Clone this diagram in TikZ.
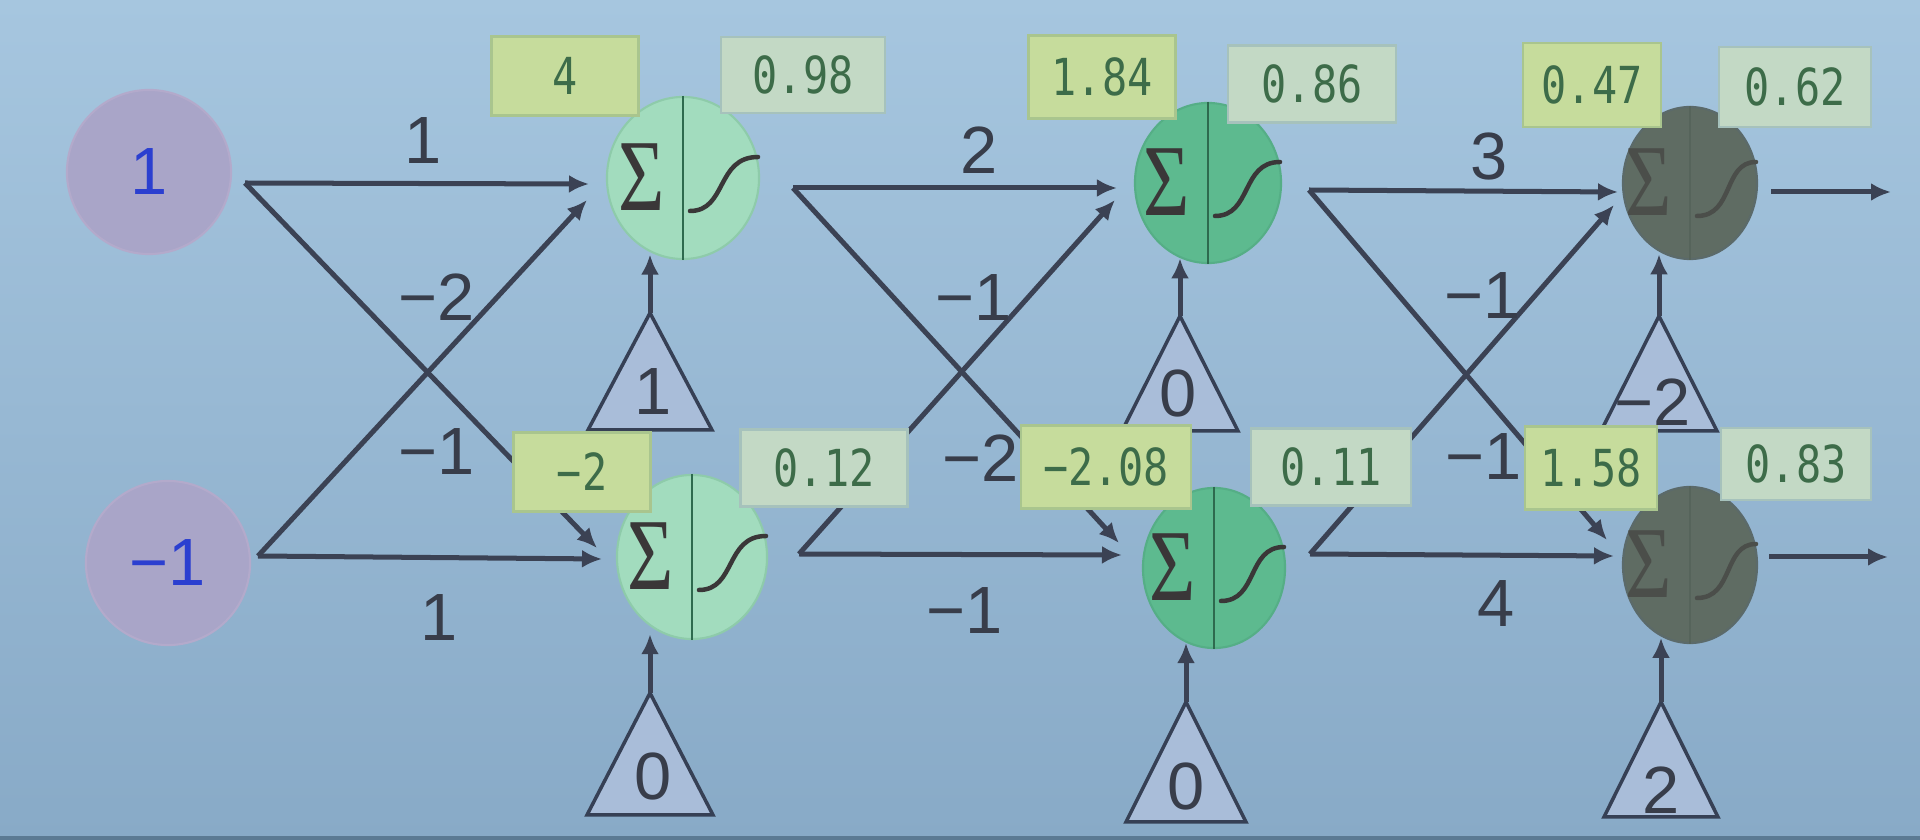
\documentclass[tikz,border=0pt]{standalone}
\usepackage{fontspec}
\setmainfont{Liberation Sans}
\newfontfamily\boxfont[FakeStretch=0.82]{DejaVu Sans Mono}
\newfontfamily\sigmafont{Liberation Serif}
\usetikzlibrary{shapes.geometric,arrows.meta,calc}
\definecolor{bgtop}{HTML}{A6C6DF}
\definecolor{bgbot}{HTML}{88AAC7}
\definecolor{bgline}{HTML}{5B7A93}
\definecolor{edgec}{HTML}{3B4254}
\definecolor{inputfill}{HTML}{A9A5C8}
\definecolor{inputdraw}{HTML}{B3AACB}
\definecolor{inputtext}{HTML}{2B3FD0}
\definecolor{n1fill}{HTML}{A2DCBE}
\definecolor{n1draw}{HTML}{8ECBAA}
\definecolor{n2fill}{HTML}{5DBA8F}
\definecolor{n2draw}{HTML}{55AE86}
\definecolor{n3fill}{HTML}{5F6C63}
\definecolor{n3draw}{HTML}{5B6A6A}
\definecolor{divc}{HTML}{2E6A4E}
\definecolor{div3c}{HTML}{56645B}
\definecolor{sigc}{HTML}{3A3738}
\definecolor{sig3c}{HTML}{4B4E4A}
\definecolor{zfill}{HTML}{C6DC9C}
\definecolor{zdraw}{HTML}{A9C58E}
\definecolor{afill}{HTML}{C3D9C5}
\definecolor{adraw}{HTML}{A6C2BC}
\definecolor{boxtext}{HTML}{3D6C49}
\definecolor{trifill}{HTML}{A9BDD9}
\definecolor{tridraw}{HTML}{364055}
\definecolor{labelc}{HTML}{383D4A}
\begin{document}
\begin{tikzpicture}[x=0.01cm,y=-0.01cm,
  arr/.style={draw=edgec, line width=0.05cm, -{Latex[length=0.2cm,width=0.18cm]}},
  wlabel/.style={text=labelc, font=\fontsize{19}{19}\selectfont, inner sep=0pt},
  innode/.style={circle, fill=inputfill, draw=inputdraw, line width=0.6pt, minimum size=1.64cm, inner sep=0pt, text=inputtext, font=\fontsize{19}{19}\selectfont},
  neuron/.style={ellipse, line width=0.6pt, inner sep=0pt},
  neuron1/.style={neuron, fill=n1fill, draw=n1draw},
  neuron2/.style={neuron, fill=n2fill, draw=n2draw},
  neuron3/.style={neuron, fill=n3fill, draw=n3draw},
  div1/.style={draw=divc, line width=0.7pt},
  div2/.style={draw=divc, line width=0.7pt},
  div3/.style={draw=div3c, line width=0.7pt},
  sigma1/.style={text=sigc, inner sep=0pt, font=\sigmafont\fontsize{29}{29}\selectfont},
  sigma2/.style={sigma1},
  sigma3/.style={sigma1, text=sig3c},
  curve1/.style={draw=sigc, line width=0.045cm, line cap=round},
  curve2/.style={curve1},
  curve3/.style={curve1, draw=sig3c},
  zbox/.style={rectangle, fill=zfill, draw=zdraw, line width=0.6pt, inner sep=0pt, text=boxtext, font=\boxfont\fontsize{14.5}{14.5}\selectfont},
  abox/.style={zbox, fill=afill, draw=adraw},
  tri/.style={fill=trifill, draw=tridraw, line width=0.035cm, line join=miter},
  tlabel/.style={text=labelc, inner sep=0pt, font=\fontsize{19}{19}\selectfont}
]
\useasboundingbox (0,0) rectangle (1920,840);
\shade[top color=bgtop, bottom color=bgbot] (0,0) rectangle (1920,840);
\fill[bgline] (0,836) rectangle (1920,840);

% input nodes
\node[innode] (x1) at (149,172) {1};
\node[innode] (x2) at (168,563) {−1};

% connector end points
\coordinate (o1a) at (245,183);
\coordinate (o1b) at (258,556);
\coordinate (o2a) at (793,188);
\coordinate (o2b) at (799,554);
\coordinate (o3a) at (1309,190);
\coordinate (o3b) at (1310,554);
\coordinate (h11) at (589,184);
\coordinate (d11) at (587,200);
\coordinate (d12) at (597,548);
\coordinate (h12) at (602,559);
\coordinate (h21) at (1117,188);
\coordinate (d21) at (1115,200);
\coordinate (d22) at (1119,543);
\coordinate (h22) at (1122,555);
\coordinate (h31) at (1618,192);
\coordinate (d31) at (1614,205);
\coordinate (d32) at (1607,540);
\coordinate (h32) at (1614,556);
\coordinate (o4a) at (1771,192);
\coordinate (e4a) at (1891,192);
\coordinate (o4b) at (1769,557);
\coordinate (e4b) at (1888,557);

% weighted connectors
\draw[arr] (o1a) -- (h11);
\draw[arr] (o1a) -- (d12);
\draw[arr] (o1b) -- (d11);
\draw[arr] (o1b) -- (h12);
\draw[arr] (o2a) -- (h21);
\draw[arr] (o2a) -- (d22);
\draw[arr] (o2b) -- (d21);
\draw[arr] (o2b) -- (h22);
\draw[arr] (o3a) -- (h31);
\draw[arr] (o3a) -- (d32);
\draw[arr] (o3b) -- (d31);
\draw[arr] (o3b) -- (h32);
\draw[arr] (o4a) -- (e4a);
\draw[arr] (o4b) -- (e4b);

% weights
\node[wlabel] (w1a) at (423,141) {1};
\node[wlabel] (w1b) at (437,297) {−2};
\node[wlabel] (w1c) at (437,452) {−1};
\node[wlabel] (w1d) at (439,618) {1};
\node[wlabel] (w2a) at (979,150) {2};
\node[wlabel] (w2b) at (974,298) {−1};
\node[wlabel] (w2c) at (981,458) {−2};
\node[wlabel] (w2d) at (965,611) {−1};
\node[wlabel] (w3a) at (1489,157) {3};
\node[wlabel] (w3b) at (1483,296) {−1};
\node[wlabel] (w3c) at (1484,457) {−1};
\node[wlabel] (w3d) at (1496,604) {4};

% neurons
\foreach \nm/\px/\py/\lay/\nw/\nh/\rx in {n11/683/178/1/1.52/1.62/75, n12/692/557/1/1.50/1.64/74, n21/1208/183/2/1.46/1.60/72, n22/1214/568/2/1.42/1.60/70, n31/1690/183/3/1.34/1.52/66, n32/1690/565/3/1.34/1.56/66}{
  \node[neuron\lay, minimum width=\nw cm, minimum height=\nh cm] (\nm) at (\px,\py) {};
  \draw[div\lay] (\nm.north) -- (\nm.south);
  \node[sigma\lay] (\nm s) at ($(\nm)+(-41,-1)$) {\scalebox{0.78}[1]{Σ}};
  \draw[curve\lay] ($(\nm)+(7,33)$) .. controls ($(\nm)+(44,33)$) and ($(\nm)+(33,-21)$) .. ($(\nm)+(\rx,-21)$);
}

% bias triangles
\foreach \nm/\ax/\ay/\hw/\tv/\lx/\lyy/\tx/\tg in {t11/650/313/62/117/653/392/1/n11, t12/650/693/63/122/653/777/0/n12, t21/1180/316/58/115/1178/394/0/n21, t22/1186/702/60/120/1186/787/0/n22, t31/1659/316/58/115/1653/402/−2/n31, t32/1661/702/57/115/1661/790/2/n32}{
  \coordinate (\nm) at (\ax,\ay);
  \draw[tri] (\nm) -- ++(-\hw,\tv) -- ++(2*\hw,0) -- cycle;
  \node[tlabel] (\nm l) at (\lx,\lyy) {\tx};
  \draw[arr] (\nm) -- (\nm |- \tg.250);
}

% value boxes
\foreach \nm/\px/\py/\nw/\nh/\st/\tx in {b11a/565/76/1.47/0.79/zbox/4, b11b/803/75/1.64/0.76/abox/0.98, b12a/582/472/1.37/0.79/zbox/−2, b12b/824/468/1.67/0.77/abox/0.12, b21a/1102/77/1.47/0.83/zbox/1.84, b21b/1312/84/1.68/0.77/abox/0.86, b22a/1106/467/1.70/0.83/zbox/−2.08, b22b/1331/467/1.60/0.77/abox/0.11, b31a/1592/85/1.38/0.84/zbox/0.47, b31b/1795/87/1.52/0.80/abox/0.62, b32a/1591/468/1.32/0.83/zbox/1.58, b32b/1796/464/1.50/0.72/abox/0.83}{
  \node[\st, minimum width=\nw cm, minimum height=\nh cm] (\nm) at (\px,\py) {\tx};
}
\end{tikzpicture}
\end{document}
